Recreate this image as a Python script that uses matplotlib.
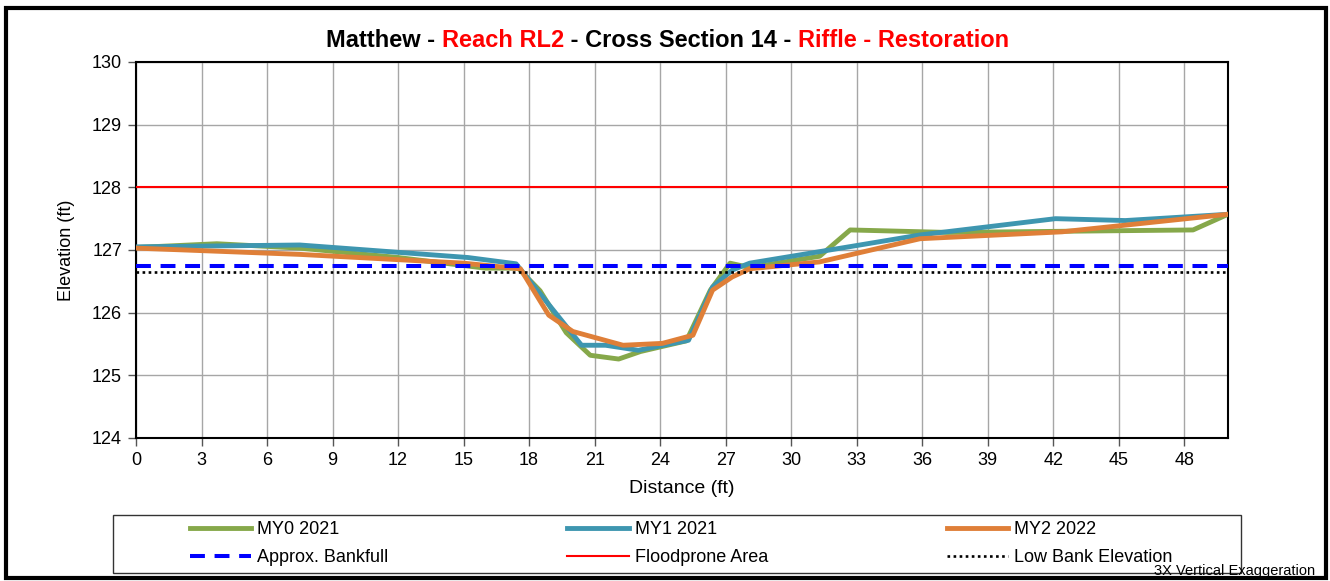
import matplotlib
matplotlib.use("Agg")
import matplotlib.pyplot as plt
from matplotlib.patches import Rectangle

plt.rcParams["font.family"] = ["Liberation Sans", "DejaVu Sans"]

# cross section survey points: distance (ft), elevation (ft)
my0_x = [0, 3.7, 7.5, 12.0, 16.0, 17.5, 18.5, 19.7, 20.8, 22.1, 23.1, 25.2, 26.3, 27.2, 28.1, 31.3, 32.7, 37.2, 48.4, 50.0]
my0_y = [127.04, 127.10, 127.03, 126.88, 126.71, 126.71, 126.35, 125.68, 125.32, 125.26, 125.38, 125.55, 126.36, 126.79, 126.72,
         126.90, 127.32, 127.28, 127.32, 127.57]

my1_x = [0, 7.5, 15.2, 17.4, 20.4, 21.5, 23.0, 25.3, 26.4, 27.3, 28.1, 32.8, 35.9, 42.1, 45.3, 50.0]
my1_y = [127.05, 127.08, 126.88, 126.78, 125.48, 125.48, 125.40, 125.56, 126.41, 126.68, 126.79, 127.06, 127.24, 127.50,
         127.47, 127.57]

my2_x = [0, 7.5, 15.0, 17.6, 18.9, 20.0, 22.3, 24.1, 25.5, 26.4, 27.3, 28.1, 31.3, 35.9, 42.4, 50.0]
my2_y = [127.03, 126.93, 126.79, 126.70, 125.96, 125.70, 125.48, 125.51, 125.64, 126.36, 126.57, 126.70, 126.81, 127.18,
         127.29, 127.57]

bankfull = 126.75
floodprone = 128.0
low_bank = 126.65

x_ticks = list(range(0, 49, 3))
y_ticks = [124, 125, 126, 127, 128, 129, 130]

W, H = 1330, 581
fig = plt.figure(figsize=(W / 100, H / 100), dpi=100)
ax = fig.add_axes([136 / W, 1 - 438 / H, (1228 - 136) / W, (438 - 62) / H])

l0, = ax.plot(my0_x, my0_y, color="#86A84A", lw=3.5, label="MY0 2021", zorder=3)
l1, = ax.plot(my1_x, my1_y, color="#3E96B0", lw=3.5, label="MY1 2021", zorder=4)
l2, = ax.plot(my2_x, my2_y, color="#DF7F38", lw=3.5, label="MY2 2022", zorder=5)
bf = ax.axhline(bankfull, color="#0000FF", lw=2.9, dashes=(3.7, 2.4), label="Approx. Bankfull", zorder=6)
fp = ax.axhline(floodprone, color="#FF0000", lw=1.5, label="Floodprone Area", zorder=6)
lb = ax.axhline(low_bank, color="black", lw=1.9, dashes=(1, 1.3), label="Low Bank Elevation", zorder=6)

ax.set_xlim(0, 50)
ax.set_ylim(124, 130)
ax.set_xticks(x_ticks)
ax.set_yticks(y_ticks)
ax.grid(True, color="#A6A6A6", lw=1)
ax.set_axisbelow(True)
for s in ax.spines.values():
    s.set_color("black")
    s.set_linewidth(1.5)
ax.tick_params(labelsize=13, direction="out", length=6, width=1, color="#555555", pad=4)
ax.set_xlabel("Distance (ft)", fontsize=14, labelpad=8)
ax.set_ylabel("Elevation (ft)", fontsize=13, labelpad=12)

# legend: frame drawn separately so the padding can match
fig.add_artist(Rectangle((113 / W, 1 - 573 / H), (1241 - 113) / W, (573 - 515) / H,
                         transform=fig.transFigure, fill=False, ec="#333333", lw=1))
fig.legend([l0, bf, l1, fp, l2, lb], [h.get_label() for h in [l0, bf, l1, fp, l2, lb]],
           ncol=3, frameon=False, fontsize=13, loc="upper left",
           bbox_to_anchor=(190 / W, 1 - 521 / H), borderpad=0, borderaxespad=0,
           handlelength=3.4, handletextpad=0.33, columnspacing=9.9, labelspacing=0.62)

fig.text(1315 / W, 1 - 575 / H, "3X Vertical Exaggeration", fontsize=10.5, ha="right", va="baseline")

# multi coloured title
pieces = [("Matthew - ", "black"), ("Reach RL2", "red"), (" - Cross Section 14 - ", "black"),
          ("Riffle - Restoration", "red")]
fig.canvas.draw()
r = fig.canvas.get_renderer()
probe = fig.text(0, 0, "", fontsize=17, fontweight="bold")


def width(s):
    probe.set_text(s + "I")
    w = probe.get_window_extent(r).width
    probe.set_text("I")
    return w - probe.get_window_extent(r).width


total = width("".join(p for p, _ in pieces))
x0 = 668 - total / 2
prefix = ""
for s, c in pieces:
    fig.text((x0 + width(prefix)) / W, 1 - 47 / H, s, fontsize=17, fontweight="bold", color=c,
             ha="left", va="baseline")
    prefix += s
probe.remove()

# outer chart border
fig.add_artist(Rectangle((6 / W, 1 - 578 / H), (1326 - 6) / W, (578 - 8) / H,
                         transform=fig.transFigure, fill=False, ec="black", lw=3))

fig.savefig("out.png", dpi=100)
